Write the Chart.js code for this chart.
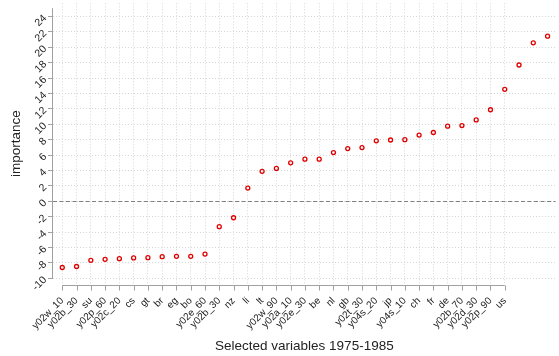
<!DOCTYPE html>
<html>
<head>
<meta charset="utf-8">
<script src="https://cdn.jsdelivr.net/npm/chart.js@4.4.1/dist/chart.umd.min.js"></script>
<style>
  html, body { margin: 0; padding: 0; background: #fff; }
  #wrap { width: 559px; height: 356px; }
</style>
</head>
<body>
<div id="wrap"><canvas id="chart" width="559" height="356"></canvas></div>
<script>
// labelled variables (the last three points have no label on the axis)
const categories = ['y02w_10', 'y02b_30', 'su', 'y02p_60', 'y02c_20', 'cs', 'gt', 'br', 'eg', 'bo',
  'y02e_60', 'y02b_30', 'nz', 'li', 'lt', 'y02w_90', 'y02a_10', 'y02e_30', 'be', 'nl', 'gb',
  'y02t_30', 'y04s_20', 'jp', 'y04s_10', 'ch', 'fr', 'de', 'y02b_70', 'y02d_30', 'y02p_90', 'us'];

const importance = [-8.6, -8.47, -7.66, -7.54, -7.45, -7.36, -7.32, -7.19, -7.15, -7.15,
  -6.85, -3.3, -2.14, 1.71, 3.89, 4.27, 5.0, 5.47, 5.47, 6.33, 6.84,
  6.97, 7.85, 7.96, 8.0, 8.6, 8.93, 9.76, 9.83, 10.56, 11.89, 14.54,
  17.7, 20.58, 21.44];

const yTicks = [-10, -8, -6, -4, -2, 0, 2, 4, 6, 8, 10, 12, 14, 16, 18, 20, 22, 24];

const FONT = "'Liberation Sans', Arial, sans-serif";

document.addEventListener('DOMContentLoaded', () => {

  const axisLines = {
    id: 'axisLines',
    beforeDatasetsDraw(chart) {
      const { ctx, chartArea: a, scales: { y } } = chart;
      const y0 = Math.round(y.getPixelForValue(0)) + 0.5;
      ctx.save();
      ctx.strokeStyle = '#808080';
      ctx.lineWidth = 1;
      ctx.setLineDash([4, 2.5]);
      ctx.beginPath();
      ctx.moveTo(a.left, y0);
      ctx.lineTo(a.right, y0);
      ctx.stroke();
      ctx.restore();
    },
    afterDraw(chart) {
      const { ctx, chartArea: a, scales: { x, y } } = chart;
      ctx.save();
      ctx.strokeStyle = '#a0a0a0';
      ctx.lineWidth = 1;
      // y axis line
      const lx = a.left - 0.5;
      ctx.beginPath();
      ctx.moveTo(lx, y.getPixelForValue(-10));
      ctx.lineTo(lx, y.getPixelForValue(25.07));
      ctx.stroke();
      // x axis line, set a little below the plot region
      const by = a.bottom + 1.5;
      ctx.beginPath();
      ctx.moveTo(x.getPixelForValue(0), by);
      ctx.lineTo(x.getPixelForValue(categories.length - 1), by);
      categories.forEach((c, i) => {
        const px = Math.round(x.getPixelForValue(i)) + 0.5;
        ctx.moveTo(px, by);
        ctx.lineTo(px, by + 5);
      });
      ctx.stroke();
      ctx.restore();
    }
  };

  new Chart(document.getElementById('chart'), {
    type: 'scatter',
    data: {
      datasets: [{
        data: importance.map((v, i) => ({ x: i, y: v })),
        borderColor: '#e00000',
        backgroundColor: 'rgba(255,255,255,0)',
        borderWidth: 1.3,
        pointRadius: 2,
        pointHoverRadius: 2,
      }],
    },
    options: {
      responsive: false,
      animation: false,
      layout: { padding: 0 },
      plugins: {
        legend: { display: false },
        tooltip: { enabled: false },
      },
      scales: {
        x: {
          type: 'linear',
          min: -0.65,
          max: 34.57,
          afterBuildTicks: s => { s.ticks = categories.map((c, i) => ({ value: i })); },
          afterFit: s => { s.height = 72; },
          grid: { color: '#d6d6d6', drawTicks: false },
          border: { display: false, dash: [1, 2] },
          ticks: {
            autoSkip: false,
            minRotation: 45,
            maxRotation: 45,
            padding: 11,
            color: '#222',
            font: { family: FONT, size: 10 },
            callback: v => categories[v],
          },
          title: {
            display: true,
            text: 'Selected variables 1975-1985',
            color: '#222',
            font: { family: FONT, size: 13.5 },
            padding: { top: 0, bottom: 2 },
          },
        },
        y: {
          min: -10.74,
          max: 25.71,
          afterBuildTicks: s => { s.ticks = yTicks.map(v => ({ value: v })); },
          afterFit: s => { s.width = 53; s.paddingTop = 0; s.paddingBottom = 0; },
          grid: { color: '#d6d6d6', tickColor: '#a0a0a0', tickLength: 5 },
          border: { display: false, dash: [1, 2] },
          ticks: {
            autoSkip: false,
            minRotation: 45,
            maxRotation: 45,
            padding: 3,
            color: '#222',
            font: { family: FONT, size: 10.5 },
          },
          title: {
            display: true,
            text: 'importance',
            color: '#222',
            font: { family: FONT, size: 13.5 },
            padding: { top: 8, bottom: 0 },
          },
        },
      },
    },
    plugins: [axisLines],
  });

});
</script>
</body>
</html>
